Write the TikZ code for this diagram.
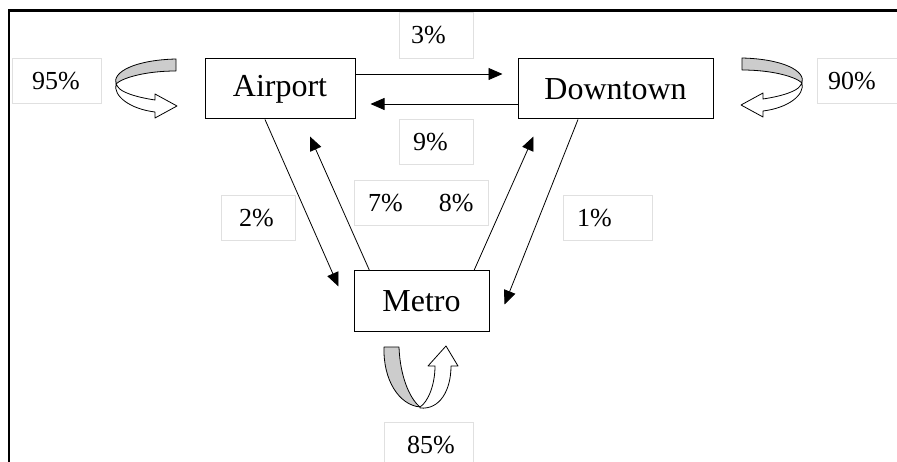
\documentclass[tikz,border=0pt]{standalone}
\usepackage{fontspec}
\setmainfont{Liberation Serif}
\usetikzlibrary{arrows.meta}
\newcommand\curlarrow{%
\draw[curl, fill=black!20] (0,0) .. controls (-41,1) and (-64,13) .. (-60,25) .. controls (-54,19) and (-31,12) .. (0,12) -- cycle;
\draw[curl, fill=white] (-60,25) .. controls (-63,37) and (-46,50) .. (-21,53) -- (-21,59) -- (1,47) -- (-21,35) -- (-21,41) .. controls (-41,38) and (-55,33) .. (-58,28) -- cycle;}
\begin{document}
\begin{tikzpicture}[x=1pt, y=-1pt,
  place/.style={draw, line width=1pt, inner sep=0pt, font=\fontsize{32}{36}\selectfont},
  lbl/.style={draw=black!12, anchor=north west, align=left, inner ysep=0pt, font=\fontsize{26}{30}\selectfont},
  arr/.style={line width=0.8pt, -{Triangle[length=14pt,width=12pt]}},
  curl/.style={line width=0.8pt, line join=round}]
\useasboundingbox (0,0) rectangle (897,462);
\draw[line width=2.5pt] (9,462) -- (9,10.5) -- (900,10.5);
% states
\node[place, minimum width=150pt, minimum height=60pt] (airport) at (280,89){Airport};
\node[place, minimum width=195pt, minimum height=60pt] (downtown) at (615.5,89){Downtown};
\node[place, minimum width=135pt, minimum height=61pt] (metro) at (421.5,301.5){Metro};
% transitions
\draw[arr] ([yshift=15pt]airport.east) -- ([xshift=-15pt,yshift=15pt]downtown.west);
\draw[arr] ([yshift=-15pt]downtown.west) -- ([xshift=15pt,yshift=-15pt]airport.east);
\draw[arr] ([xshift=-15pt]airport.south) -- ([xshift=-15pt,yshift=15pt]metro.west);
\draw[arr] ([xshift=-52pt]metro.north) -- ([xshift=30pt,yshift=-17pt]airport.south);
\draw[arr] ([xshift=52.5pt]metro.north) -- ([xshift=-82pt,yshift=-17pt]downtown.south);
\draw[arr] ([xshift=-37.5pt]downtown.south) -- ([xshift=15pt,yshift=-3pt]metro.east);
% loops
\begin{scope}[shift={(176,59)}]
\curlarrow
\end{scope}
\begin{scope}[shift={(742,58)}, xscale=-1]
\curlarrow
\end{scope}
\draw[curl, fill=black!20] (384,347) -- (399,347) .. controls (400,375) and (409,398) .. (420,407) .. controls (399,405) and (383,380) .. (384,347) -- cycle;
\draw[curl, fill=white] (420,407) .. controls (428,402) and (435,385) .. (435,366) -- (428,366) -- (446,346) -- (458,366) -- (451,366) .. controls (451,390) and (440,410) .. (420,408) -- cycle;
% probabilities
\node[lbl, text width=49pt, inner xsep=20pt, minimum height=45pt] (p95) at (12,58){95\%};
\node[lbl, text width=68pt, inner xsep=11pt, minimum height=45pt] (p90) at (817,58){90\%};
\node[lbl, text width=50pt, inner xsep=12pt, minimum height=46pt] (p3) at (399,12){3\%};
\node[lbl, text width=46pt, inner xsep=14pt, minimum height=45pt] (p9) at (399,119){9\%};
\node[lbl, text width=38pt, inner xsep=18pt, minimum height=45pt] (p2) at (221,195){2\%};
\node[lbl, text width=106pt, inner xsep=14pt, minimum height=45pt] (p78) at (354,180){7\%\hspace{36pt}8\%};
\node[lbl, text width=61pt, inner xsep=14pt, minimum height=45pt] (p1) at (563,195){1\%};
\node[lbl, text width=43pt, inner xsep=23pt, minimum height=45pt] (p85) at (384,422){85\%};
\end{tikzpicture}
\end{document}
